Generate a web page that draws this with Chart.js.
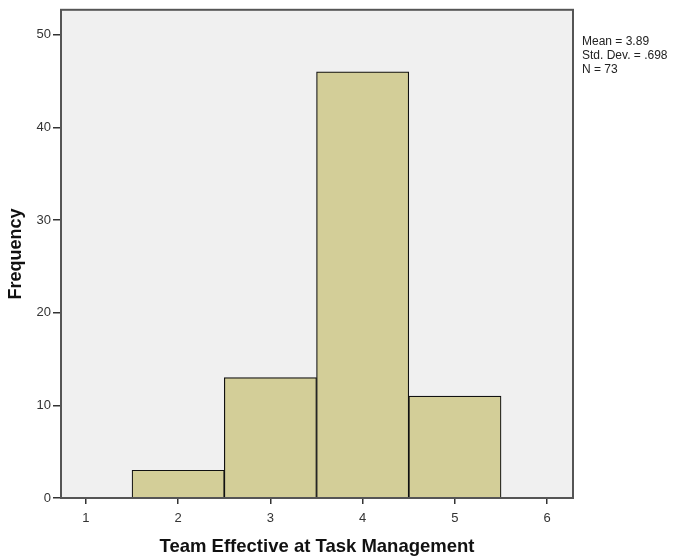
<!DOCTYPE html>
<html>
<head>
<meta charset="utf-8">
<script src="https://cdn.jsdelivr.net/npm/chart.js@4/dist/chart.umd.min.js"></script>
<style>
html,body{margin:0;padding:0;background:#fff;}
#wrap{width:678px;height:558px;position:relative;}
</style>
</head>
<body>
<div id="wrap"><canvas id="c" width="678" height="558"></canvas></div>
<script>
// Data
const binCenters = [2, 3, 4, 5];
const frequencies = [3, 13, 46, 11];
const xTicks = [1, 2, 3, 4, 5, 6];
const yTicks = [0, 10, 20, 30, 40, 50];
const statsLines = ["Mean = 3.89", "Std. Dev. = .698", "N = 73"];
const xTitle = "Team Effective at Task Management";
const yTitle = "Frequency";

const FONT = "'Liberation Sans', Arial, sans-serif";

const framePlugin = {
  id: 'frame',
  beforeDraw(chart) {
    const {ctx, chartArea: a} = chart;
    ctx.save();
    ctx.fillStyle = '#ffffff';
    ctx.fillRect(0, 0, chart.width, chart.height);
    ctx.fillStyle = '#f0f0f0';
    ctx.fillRect(a.left, a.top, a.right - a.left, a.bottom - a.top);
    ctx.restore();
  },
  afterDraw(chart) {
    const {ctx, chartArea: a} = chart;
    ctx.save();
    ctx.strokeStyle = '#555555';
    ctx.lineWidth = 2;
    ctx.strokeRect(a.left, a.top, a.right - a.left, a.bottom - a.top);
    ctx.fillStyle = '#222222';
    ctx.font = "12px " + FONT;
    ctx.textBaseline = 'middle';
    ctx.textAlign = 'left';
    statsLines.forEach((t, i) => ctx.fillText(t, a.right + 9, 42 + i * 14));
    ctx.restore();
  }
};

new Chart(document.getElementById('c'), {
  type: 'bar',
  data: {
    datasets: [{
      data: binCenters.map((x, i) => ({x: x, y: frequencies[i]})),
      backgroundColor: '#d3ce98',
      borderColor: '#111111',
      borderWidth: 1.2,
      barPercentage: 1,
      categoryPercentage: 1
    }]
  },
  plugins: [framePlugin],
  options: {
    responsive: false,
    animation: false,
    devicePixelRatio: 1,
    layout: {padding: {left: 0, top: 9, right: 105, bottom: 0}},
    plugins: {legend: {display: false}, tooltip: {enabled: false}},
    scales: {
      x: {
        type: 'linear',
        min: 0.73,
        max: 6.28,
        offset: false,
        grid: {offset: false, drawOnChartArea: false, drawTicks: true, tickLength: 6, color: '#333333', lineWidth: 1.5},
        border: {display: false},
        afterBuildTicks: s => { s.ticks = xTicks.map(v => ({value: v})); },
        afterFit: s => { s.height = 60; },
        ticks: {color: '#333333', font: {family: FONT, size: 13}, padding: 7, maxRotation: 0, autoSkip: false},
        title: {display: true, text: xTitle, color: '#111111', font: {family: FONT, size: 18.5, weight: 'bold'}, padding: {top: 0, bottom: 0}}
      },
      y: {
        min: 0,
        max: 52.7,
        grid: {drawOnChartArea: false, drawTicks: true, tickLength: 8, color: '#333333', lineWidth: 1.5},
        border: {display: false},
        afterBuildTicks: s => { s.ticks = yTicks.map(v => ({value: v})); },
        afterFit: s => { s.width = 61; },
        ticks: {color: '#333333', font: {family: FONT, size: 13}, padding: 2},
        title: {display: true, text: yTitle, color: '#111111', font: {family: FONT, size: 18, weight: 'bold'}, padding: {top: 5, bottom: 0}}
      }
    }
  }
});
</script>
</body>
</html>
